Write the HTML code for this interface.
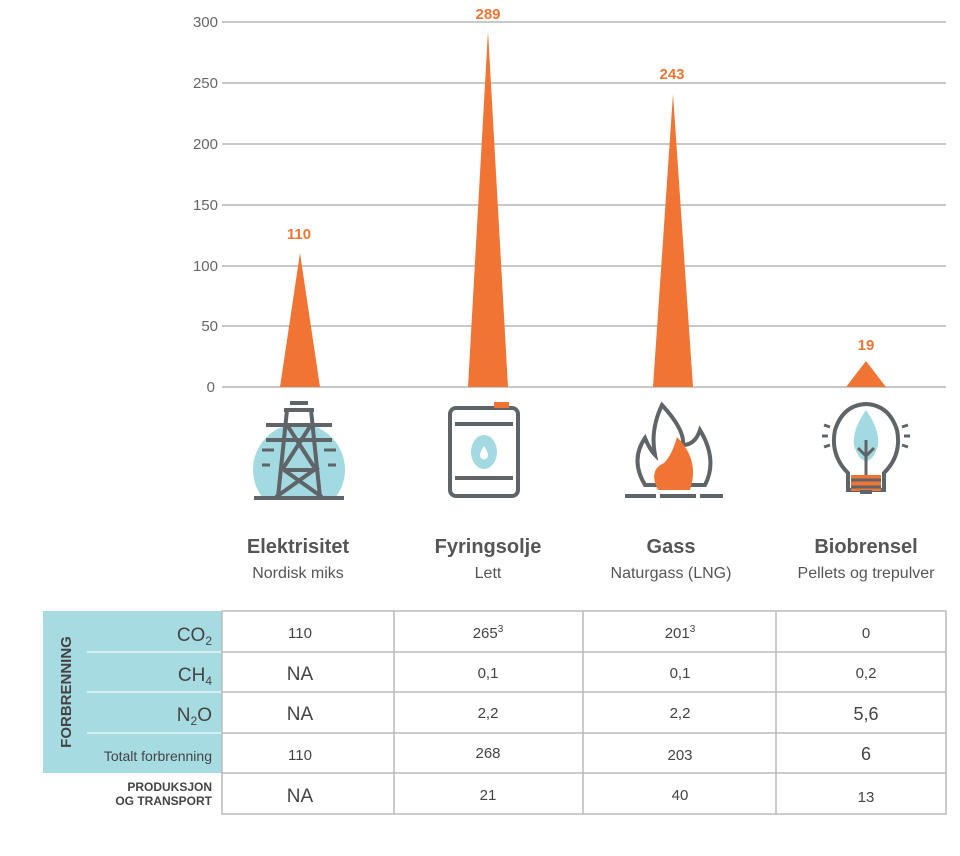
<!DOCTYPE html>
<html><head><meta charset="utf-8"><style>
html,body{margin:0;padding:0;background:#fff;}
svg{display:block;font-family:"Liberation Sans",sans-serif;}
</style></head><body>
<svg width="960" height="856" viewBox="0 0 960 856" xmlns="http://www.w3.org/2000/svg">
<g stroke="#a8a8a8" stroke-width="1.2">
<line x1="222" y1="22" x2="946" y2="22"/>
<line x1="222" y1="83" x2="946" y2="83"/>
<line x1="222" y1="144" x2="946" y2="144"/>
<line x1="222" y1="205" x2="946" y2="205"/>
<line x1="222" y1="266" x2="946" y2="266"/>
<line x1="222" y1="326" x2="946" y2="326"/>
<line x1="222" y1="387" x2="946" y2="387"/>
</g>
<g fill="#666" font-size="15" text-anchor="end">
<text x="218" y="27">300</text><text x="218" y="88">250</text><text x="218" y="149">200</text>
<text x="218" y="210">150</text><text x="218" y="271">100</text><text x="218" y="331">50</text>
<text x="215" y="392">0</text>
</g>
<g fill="#f07535">
<polygon points="280,387 300,253 320,387"/>
<polygon points="468,387 488,31 508,387"/>
<polygon points="653,387 673,94 693,387"/>
<polygon points="846,387 866,361 886,387"/>
</g>
<g fill="#f07535" font-size="15" font-weight="bold" text-anchor="middle">
<text x="299" y="239">110</text><text x="488" y="19">289</text>
<text x="672" y="79">243</text><text x="866" y="350">19</text>
</g>
<g stroke="#5f6468" stroke-width="4" fill="none" stroke-linecap="butt">
<path d="M262,497 A46,46 0 1 1 336,497 Z" fill="#a3d9e1" stroke="none"/>
<path d="M284,410 L314,410 M266,425 L332,425 M266,440 L332,440 M290,403 L308,403 M287,410 L278,497 M311,410 L320,497 M287,425 L316,470 M311,425 L282,470 M284,470 L314,470 L276,497 M284,470 L322,497"/>
<path d="M262,450 L274,450 M324,450 L336,450 M262,465 L270,465 M328,465 L336,465" stroke-width="3"/>
<line x1="254" y1="498" x2="344" y2="498"/>
<rect x="450" y="408" width="68" height="88" rx="6"/>
<path d="M455,424 L513,424 M455,478 L513,478"/>
<rect x="494" y="402" width="15" height="6" fill="#f07535" stroke="none"/>
<ellipse cx="484" cy="452" rx="13" ry="17" fill="#a3d9e1" stroke="none"/>
<path d="M484,446 Q478,455 481,458 Q484,461 487,458 Q490,455 484,446Z" fill="#fff" stroke="none"/>
<path d="M662,405 Q685,430 683,445 Q695,445 700,430 Q718,460 705,485 L645,485 Q630,460 645,438 Q650,450 655,455 Q650,430 662,405Z"/>
<path d="M677,437 Q700,460 690,490 L658,490 Q648,470 664,463 Q672,455 677,437Z" fill="#f07535" stroke="none"/>
<path d="M625,496 L656,496 M700,496 L723,496 M660,496 L696,496" />
<path d="M848,473 Q830,455 835,430 Q843,405 866,404 Q889,405 897,430 Q902,455 884,473 L884,490 L848,490 Z"/>
<path d="M866,410 Q852,430 854,445 Q858,460 866,461 Q874,460 878,445 Q880,430 866,410Z" fill="#a3d9e1" stroke="none"/>
<path d="M866,440 L866,475 M858,448 L866,456 L874,448" stroke-width="3"/>
<rect x="851" y="475" width="30" height="16" fill="#f07535" stroke="none"/>
<path d="M851,480 L881,480 M851,487 L881,487" stroke-width="3"/>
<path d="M860,492 L872,492" stroke-width="4"/>
<path d="M824,425 L830,427 M822,436 L828,436 M824,447 L830,445 M908,425 L902,427 M910,436 L904,436 M908,447 L902,445" stroke-width="3"/>
</g>
<g fill="#555" text-anchor="middle">
<g font-size="20" font-weight="bold">
<text x="298" y="553">Elektrisitet</text><text x="488" y="553">Fyringsolje</text>
<text x="671" y="553">Gass</text><text x="866" y="553">Biobrensel</text></g>
<g font-size="16">
<text x="298" y="578">Nordisk miks</text><text x="488" y="578">Lett</text>
<text x="671" y="578">Naturgass (LNG)</text><text x="866" y="578">Pellets og trepulver</text></g>
</g>
<rect x="43" y="611" width="179" height="162" fill="#a6dbe2"/>
<g stroke="#e4f4f6" stroke-width="1.5">
<line x1="87" y1="652" x2="222" y2="652"/><line x1="87" y1="692" x2="222" y2="692"/><line x1="87" y1="733" x2="222" y2="733"/>
</g>
<g stroke="#bbb" stroke-width="1.5" fill="none">
<rect x="222" y="611" width="724" height="203"/>
<line x1="222" y1="652" x2="946" y2="652"/><line x1="222" y1="692" x2="946" y2="692"/>
<line x1="222" y1="733" x2="946" y2="733"/><line x1="222" y1="773" x2="946" y2="773"/>
<line x1="394" y1="611" x2="394" y2="814"/><line x1="583" y1="611" x2="583" y2="814"/><line x1="776" y1="611" x2="776" y2="814"/>
</g>
<text transform="translate(71,692) rotate(-90)" text-anchor="middle" font-size="15" font-weight="bold" fill="#444">FORBRENNING</text>
<g fill="#444" text-anchor="end">
<text x="212" y="641" font-size="19">CO<tspan font-size="12" dy="4">2</tspan></text>
<text x="212" y="681" font-size="19">CH<tspan font-size="12" dy="4">4</tspan></text>
<text x="212" y="721" font-size="19">N<tspan font-size="12" dy="4">2</tspan><tspan dy="-4">O</tspan></text>
<text x="212" y="761" font-size="14">Totalt forbrenning</text>
<text x="212" y="791" font-size="12" font-weight="bold">PRODUKSJON</text>
<text x="212" y="805" font-size="12" font-weight="bold">OG TRANSPORT</text>
</g>
<g fill="#444" text-anchor="middle" font-size="15">
<text x="300" y="638">110</text><text x="488" y="638">265<tspan font-size="10" dy="-6">3</tspan></text><text x="680" y="638">201<tspan font-size="10" dy="-6">3</tspan></text><text x="866" y="638">0</text>
<text x="300" y="680" font-size="19">NA</text><text x="488" y="678">0,1</text><text x="680" y="678">0,1</text><text x="866" y="678">0,2</text>
<text x="300" y="720" font-size="19">NA</text><text x="488" y="718">2,2</text><text x="680" y="718">2,2</text><text x="866" y="720" font-size="18">5,6</text>
<text x="300" y="760">110</text><text x="488" y="758">268</text><text x="680" y="760">203</text><text x="866" y="760" font-size="18">6</text>
<text x="300" y="802" font-size="19">NA</text><text x="488" y="800">21</text><text x="680" y="800">40</text><text x="866" y="802">13</text>
</g>
</svg>
</body></html>
